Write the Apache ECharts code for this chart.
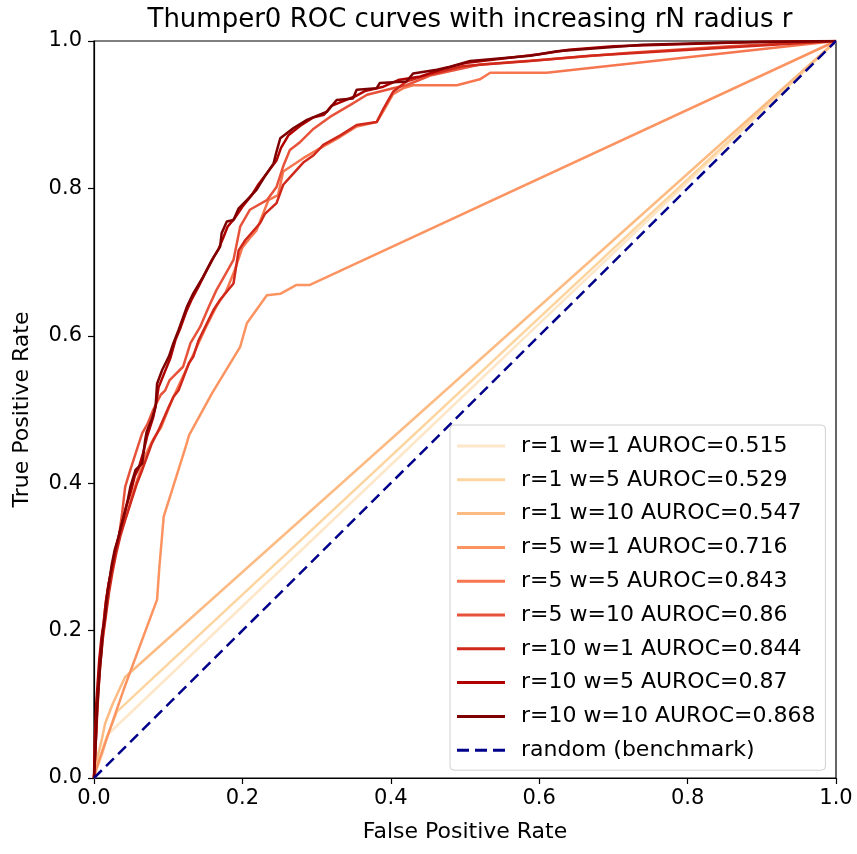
<!DOCTYPE html>
<html><head><meta charset="utf-8">
<script src="https://cdn.jsdelivr.net/npm/echarts@6/dist/echarts.min.js"></script>
<style>html,body{margin:0;padding:0;background:#fff}#c{width:857px;height:854px}</style>
</head><body><div id="c"></div>
<script>
const titleText = 'Thumper0 ROC curves with increasing rN radius r';
const xTicks = [0, 0.2, 0.4, 0.6, 0.8, 1.0];
const yTicks = [0, 0.2, 0.4, 0.6, 0.8, 1.0];
const seriesNames = ['r=1 w=1 AUROC=0.515','r=1 w=5 AUROC=0.529','r=1 w=10 AUROC=0.547','r=5 w=1 AUROC=0.716','r=5 w=5 AUROC=0.843','r=5 w=10 AUROC=0.86','r=10 w=1 AUROC=0.844','r=10 w=5 AUROC=0.87','r=10 w=10 AUROC=0.868'];
const seriesColors = ['#fee7c9','#fdd5a1','#fdbb84','#fc9461','#f67650','#e7533a','#d0281a','#b00000','#7f0000'];

const r1w1 = [[0,0],[0.005,0.015],[0.012,0.034],[0.0175,0.058],[1,1]];
const r1w5 = [[0,0],[0.006,0.022],[0.015,0.05],[0.031,0.09],[1,1]];
const r1w10 = [[0,0],[0.004,0.025],[0.01,0.05],[0.015,0.074],[0.025,0.1],[0.035,0.122],[0.042,0.137],[1,1]];
const r5w1 = [[0,0],[0.003,0.012],[0.04,0.12],[0.085,0.242],[0.088,0.285],[0.094,0.355],[0.105,0.39],[0.125,0.454],[0.128,0.465],[0.159,0.522],[0.197,0.585],[0.206,0.617],[0.233,0.655],[0.251,0.657],[0.273,0.669],[0.291,0.669],[1,1]];
const r5w5 = [[0,0],[0.002,0.05],[0.004,0.1],[0.007,0.14],[0.01,0.18],[0.014,0.21],[0.018,0.24],[0.022,0.27],[0.027,0.295],[0.032,0.32],[0.038,0.34],[0.045,0.36],[0.052,0.385],[0.06,0.41],[0.07,0.44],[0.08,0.46],[0.09,0.475],[0.1,0.5],[0.107,0.517],[0.12,0.545],[0.134,0.575],[0.15,0.61],[0.165,0.64],[0.178,0.66],[0.19,0.69],[0.2,0.72],[0.212,0.735],[0.219,0.743],[0.235,0.784],[0.248,0.791],[0.255,0.823],[0.282,0.841],[0.309,0.857],[0.332,0.87],[0.354,0.884],[0.381,0.89],[0.39,0.905],[0.403,0.928],[0.417,0.936],[0.43,0.94],[0.489,0.94],[0.52,0.948],[0.534,0.957],[0.61,0.957],[1,1]];
const r5w10 = [[0,0],[0.002,0.04],[0.004,0.09],[0.006,0.13],[0.009,0.17],[0.012,0.2],[0.015,0.23],[0.019,0.26],[0.024,0.285],[0.029,0.31],[0.034,0.33],[0.038,0.36],[0.042,0.395],[0.048,0.415],[0.056,0.44],[0.065,0.468],[0.072,0.48],[0.08,0.5],[0.09,0.52],[0.096,0.526],[0.102,0.54],[0.12,0.558],[0.13,0.59],[0.143,0.612],[0.155,0.64],[0.165,0.662],[0.178,0.685],[0.188,0.703],[0.197,0.748],[0.21,0.771],[0.233,0.784],[0.246,0.802],[0.255,0.83],[0.264,0.852],[0.278,0.863],[0.296,0.881],[0.318,0.897],[0.345,0.913],[0.368,0.927],[0.403,0.936],[0.421,0.94],[0.453,0.953],[0.52,0.968],[0.61,0.975],[0.722,0.984],[0.857,0.993],[1,1]];
const r10w1 = [[0,0],[0.002,0.04],[0.004,0.08],[0.006,0.12],[0.009,0.16],[0.012,0.19],[0.016,0.22],[0.02,0.25],[0.025,0.28],[0.03,0.305],[0.036,0.33],[0.042,0.35],[0.05,0.375],[0.058,0.4],[0.065,0.418],[0.078,0.454],[0.087,0.472],[0.101,0.504],[0.107,0.517],[0.114,0.526],[0.128,0.563],[0.134,0.572],[0.141,0.594],[0.161,0.635],[0.17,0.649],[0.188,0.671],[0.195,0.716],[0.204,0.73],[0.224,0.753],[0.23,0.765],[0.246,0.78],[0.255,0.805],[0.264,0.815],[0.282,0.835],[0.296,0.845],[0.309,0.859],[0.332,0.872],[0.354,0.886],[0.381,0.89],[0.39,0.908],[0.403,0.931],[0.421,0.945],[0.453,0.955],[0.498,0.966],[0.588,0.973],[0.668,0.98],[1,1]];
const r10w5 = [[0,0],[0.001,0.05],[0.003,0.1],[0.005,0.13],[0.007,0.16],[0.01,0.19],[0.013,0.21],[0.016,0.24],[0.02,0.265],[0.024,0.285],[0.027,0.3],[0.031,0.318],[0.035,0.335],[0.039,0.35],[0.044,0.37],[0.05,0.39],[0.055,0.41],[0.06,0.42],[0.066,0.44],[0.072,0.465],[0.08,0.49],[0.084,0.51],[0.087,0.53],[0.095,0.55],[0.103,0.57],[0.11,0.595],[0.117,0.612],[0.124,0.632],[0.131,0.648],[0.14,0.665],[0.15,0.685],[0.161,0.706],[0.168,0.718],[0.175,0.735],[0.18,0.748],[0.19,0.76],[0.2,0.775],[0.212,0.79],[0.222,0.806],[0.234,0.822],[0.246,0.838],[0.252,0.855],[0.262,0.872],[0.278,0.885],[0.295,0.896],[0.31,0.9],[0.32,0.912],[0.335,0.918],[0.352,0.925],[0.365,0.932],[0.39,0.938],[0.41,0.947],[0.44,0.952],[0.47,0.962],[0.5,0.97],[0.54,0.975],[0.6,0.982],[0.64,0.988],[0.7,0.993],[0.8,0.996],[0.9,0.999],[1,1]];
const r10w10 = [[0,0],[0.002,0.04],[0.004,0.09],[0.006,0.12],[0.008,0.15],[0.01,0.17],[0.012,0.2],[0.015,0.22],[0.018,0.25],[0.021,0.27],[0.024,0.29],[0.028,0.31],[0.033,0.327],[0.036,0.34],[0.04,0.355],[0.045,0.375],[0.049,0.395],[0.056,0.418],[0.065,0.427],[0.069,0.459],[0.071,0.47],[0.078,0.487],[0.083,0.504],[0.085,0.535],[0.092,0.554],[0.101,0.572],[0.107,0.59],[0.114,0.608],[0.125,0.639],[0.134,0.658],[0.147,0.68],[0.159,0.703],[0.17,0.721],[0.172,0.739],[0.179,0.755],[0.188,0.757],[0.195,0.773],[0.206,0.784],[0.219,0.798],[0.23,0.816],[0.242,0.834],[0.246,0.85],[0.251,0.868],[0.269,0.882],[0.287,0.893],[0.314,0.904],[0.327,0.92],[0.349,0.922],[0.354,0.934],[0.381,0.936],[0.385,0.943],[0.421,0.945],[0.43,0.956],[0.462,0.961],[0.48,0.965],[0.507,0.973],[0.588,0.98],[0.624,0.986],[0.686,0.991],[0.74,0.995],[0.857,0.998],[1,1]];
const randomLine = [[0,0],[1,1]];
const randomName = 'random (benchmark)';

const curves = [r1w1, r1w5, r1w10, r5w1, r5w5, r5w10, r10w1, r10w5, r10w10];
const FONT = 'DejaVu Sans';

const series = curves.map((d, i) => ({
  name: seriesNames[i], type: 'line', data: d, symbol: 'none', showSymbol: false,
  lineStyle: { color: seriesColors[i], width: 2.5 }, itemStyle: { color: seriesColors[i] },
  animation: false, z: 2 + i
}));
series.push({
  name: randomName, type: 'line', data: randomLine, symbol: 'none', showSymbol: false,
  lineStyle: { color: '#00008b', width: 2.5, type: [11, 6] }, itemStyle: { color: '#00008b' },
  animation: false, z: 20
});

const legendData = seriesNames.map(n => ({ name: n, icon: 'rect' }));
legendData.push({ name: randomName, icon: 'path://M0,0h12v3h-12zM18,0h12v3h-12zM36,0h12v3h-12z' });

const chart = echarts.init(document.getElementById('c'), null, { renderer: 'canvas' });
chart.setOption({
  backgroundColor: '#fff',
  animation: false,
  title: { text: titleText, left: 465, top: 2, textAlign: 'center',
    textStyle: { fontFamily: FONT, fontSize: 26, fontWeight: 'normal', color: '#000' } },
  grid: { left: 94, right: 21, top: 41, bottom: 76, show: true, borderColor: '#000', borderWidth: 1.2, backgroundColor: 'transparent' },
  legend: {
    orient: 'vertical', left: 450, top: 425,
    itemWidth: 48, itemHeight: 3, itemGap: 9.8,
    padding: [9, 10, 8, 7],
    backgroundColor: '#fff', borderColor: '#d0d0d0', borderWidth: 1, borderRadius: 4,
    textStyle: { fontFamily: FONT, fontSize: 22, lineHeight: 24, color: '#000', padding: [0, 0, 0, 11] },
    data: legendData
  },
  xAxis: {
    type: 'value', min: 0, max: 1, interval: 0.2,
    name: 'False Positive Rate', nameLocation: 'middle', nameGap: 43,
    nameTextStyle: { fontFamily: FONT, fontSize: 22, color: '#000' },
    axisLine: { show: true, lineStyle: { color: '#000', width: 1.2 } },
    axisTick: { show: true, inside: false, length: 6, lineStyle: { color: '#000', width: 1.2 } },
    axisLabel: { fontFamily: FONT, fontSize: 21, color: '#000', margin: 10,
      formatter: v => xTicks.some(t => Math.abs(t - v) < 1e-9) ? v.toFixed(1) : '' },
    splitLine: { show: false }
  },
  yAxis: {
    type: 'value', min: 0, max: 1, interval: 0.2,
    name: 'True Positive Rate', nameLocation: 'middle', nameGap: 61, nameRotate: 90,
    nameTextStyle: { fontFamily: FONT, fontSize: 22, color: '#000' },
    axisLine: { show: true, lineStyle: { color: '#000', width: 1.2 } },
    axisTick: { show: true, inside: false, length: 6, lineStyle: { color: '#000', width: 1.2 } },
    axisLabel: { fontFamily: FONT, fontSize: 21, color: '#000', margin: 12,
      formatter: v => yTicks.some(t => Math.abs(t - v) < 1e-9) ? v.toFixed(1) : '' },
    splitLine: { show: false }
  },
  series: series
});
</script></body></html>
